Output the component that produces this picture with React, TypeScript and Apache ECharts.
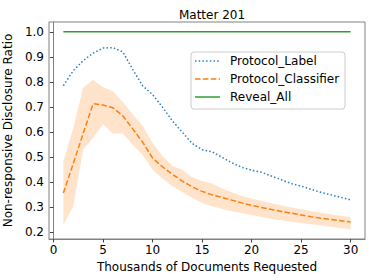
import React, { useEffect, useRef } from "react";
import * as echarts from "echarts";

const xValues = [1, 2, 3, 4, 5, 6, 7, 8, 9, 10, 11, 12, 13, 14, 15, 16, 17, 18, 19, 20, 21, 22, 23, 24, 25, 26, 27, 28, 29, 30];
const protocolLabel = [0.785, 0.845, 0.885, 0.915, 0.935, 0.937, 0.92, 0.85, 0.785, 0.75, 0.7, 0.645, 0.6, 0.555, 0.53, 0.522, 0.5, 0.478, 0.46, 0.448, 0.44, 0.425, 0.41, 0.395, 0.385, 0.372, 0.36, 0.35, 0.34, 0.33];
const protocolClassifier = [0.357, 0.475, 0.595, 0.713, 0.708, 0.697, 0.665, 0.613, 0.56, 0.497, 0.462, 0.432, 0.405, 0.382, 0.364, 0.35, 0.34, 0.329, 0.318, 0.308, 0.3, 0.292, 0.284, 0.277, 0.27, 0.263, 0.257, 0.252, 0.247, 0.242];
const classifierUpper = [0.484, 0.615, 0.778, 0.808, 0.78, 0.763, 0.72, 0.671, 0.625, 0.557, 0.505, 0.465, 0.45, 0.42, 0.405, 0.395, 0.375, 0.36, 0.345, 0.335, 0.325, 0.317, 0.308, 0.3, 0.293, 0.286, 0.279, 0.273, 0.267, 0.261];
const classifierLower = [0.23, 0.305, 0.53, 0.577, 0.631, 0.595, 0.595, 0.55, 0.51, 0.45, 0.415, 0.385, 0.36, 0.338, 0.318, 0.305, 0.295, 0.285, 0.278, 0.27, 0.262, 0.255, 0.249, 0.243, 0.238, 0.233, 0.228, 0.223, 0.218, 0.213];
const revealAll = xValues.map(() => 1.0);
const xTicks = [0, 5, 10, 15, 20, 25, 30];
const yTicks = [0.2, 0.3, 0.4, 0.5, 0.6, 0.7, 0.8, 0.9, 1.0];
const legendNames = ["Protocol_Label", "Protocol_Classifier", "Reveal_All"];

const FONT = "DejaVu Sans";
const BLUE = "#2a7fc0";
const ORANGE = "#ff7f0e";
const GREEN = "#2ca02c";

export default function App() {
  const ref = useRef<HTMLDivElement>(null);
  useEffect(() => {
    if (!ref.current) return;
    const chart = echarts.init(ref.current, null, { renderer: "svg" });
    const pairs = (arr: number[]) => xValues.map((x, i) => [x, arr[i]]);

    const legendStyles = [
      { color: BLUE, dash: [1.5, 2.2] },
      { color: ORANGE, dash: [5.5, 2.4] },
      { color: GREEN, dash: null as number[] | null },
    ];
    const legendLeft = 191;
    const legendTop = 52;
    const rowGap = 18;
    const legendChildren: any[] = [
      {
        type: "rect",
        shape: { x: legendLeft, y: legendTop, width: 154, height: 57, r: 3 },
        style: { fill: "rgba(255,255,255,0.8)", stroke: "#ccc", lineWidth: 1 },
      },
    ];
    legendNames.forEach((name, i) => {
      const cy = legendTop + 9 + i * rowGap;
      legendChildren.push({
        type: "line",
        shape: { x1: legendLeft + 4, y1: cy, x2: legendLeft + 29, y2: cy },
        style: { stroke: legendStyles[i].color, lineWidth: 1.5, lineDash: legendStyles[i].dash || undefined },
      });
      legendChildren.push({
        type: "text",
        x: legendLeft + 39,
        y: cy,
        style: { text: name, fontFamily: FONT, fontSize: 12, fill: "#000", verticalAlign: "middle", align: "left" },
      });
    });

    chart.setOption({
      animation: false,
      textStyle: { fontFamily: FONT, color: "#000" },
      title: {
        text: "Matter 201",
        left: 207,
        top: 4,
        textAlign: "center",
        textStyle: { fontFamily: FONT, fontSize: 12, fontWeight: "normal", color: "#000" },
      },
      grid: {
        left: 49,
        right: 9,
        top: 22,
        bottom: 41,
        containLabel: false,
        outerBoundsMode: "none",
        show: true,
        borderColor: "#808080",
        borderWidth: 1,
        backgroundColor: "transparent",
      },
      xAxis: {
        type: "value",
        min: -0.45,
        max: 31.45,
        name: "Thousands of Documents Requested",
        nameLocation: "middle",
        nameGap: 19,
        nameTextStyle: { fontFamily: FONT, fontSize: 12, color: "#000" },
        splitLine: { show: false },
        axisLine: { show: true, lineStyle: { color: "#808080" } },
        axisTick: { show: true, length: 3.5, lineStyle: { color: "#444" }, customValues: xTicks },
        axisLabel: { fontFamily: FONT, fontSize: 12, color: "#000", margin: 5, customValues: xTicks },
      },
      yAxis: {
        type: "value",
        min: 0.174,
        max: 1.039,
        name: "Non-responsive Disclosure Ratio",
        nameLocation: "middle",
        nameGap: 29,
        nameTextStyle: { fontFamily: FONT, fontSize: 12, color: "#000" },
        splitLine: { show: false },
        axisLine: { show: true, lineStyle: { color: "#808080" } },
        axisTick: { show: true, length: 3.5, lineStyle: { color: "#444" }, customValues: yTicks },
        axisLabel: {
          fontFamily: FONT,
          fontSize: 12,
          color: "#000",
          margin: 5,
          customValues: yTicks,
          formatter: (v: number) => v.toFixed(1),
        },
      },
      graphic: [{ type: "group", z: 100, children: legendChildren }],
      series: [
        {
          name: "_band",
          type: "custom",
          data: xValues.map((x, i) => [x, classifierLower[i], classifierUpper[i]]),
          encode: { x: 0, y: [1, 2] },
          silent: true,
          z: 1,
          renderItem: (params: any, api: any) => {
            if (params.dataIndex !== 0) return null;
            const upperPts = xValues.map((x, i) => api.coord([x, classifierUpper[i]]));
            const lowerPts = xValues.map((x, i) => api.coord([x, classifierLower[i]])).reverse();
            return {
              type: "polygon",
              shape: { points: upperPts.concat(lowerPts) },
              style: { fill: "rgba(255,127,14,0.22)", stroke: "none" },
            };
          },
        },
        {
          name: "Protocol_Label",
          type: "line",
          data: pairs(protocolLabel),
          symbol: "none",
          color: BLUE,
          lineStyle: { color: BLUE, width: 1.5, type: [1.5, 2.2] },
          z: 3,
        },
        {
          name: "Protocol_Classifier",
          type: "line",
          data: pairs(protocolClassifier),
          symbol: "none",
          color: ORANGE,
          lineStyle: { color: ORANGE, width: 1.5, type: [5.5, 2.4] },
          z: 3,
        },
        {
          name: "Reveal_All",
          type: "line",
          data: pairs(revealAll),
          symbol: "none",
          color: GREEN,
          lineStyle: { color: GREEN, width: 1.5 },
          z: 3,
        },
      ],
    });
    return () => chart.dispose();
  }, []);
  return <div ref={ref} style={{ width: 374, height: 280, position: "absolute", left: 0, top: 0 }} />;
}
